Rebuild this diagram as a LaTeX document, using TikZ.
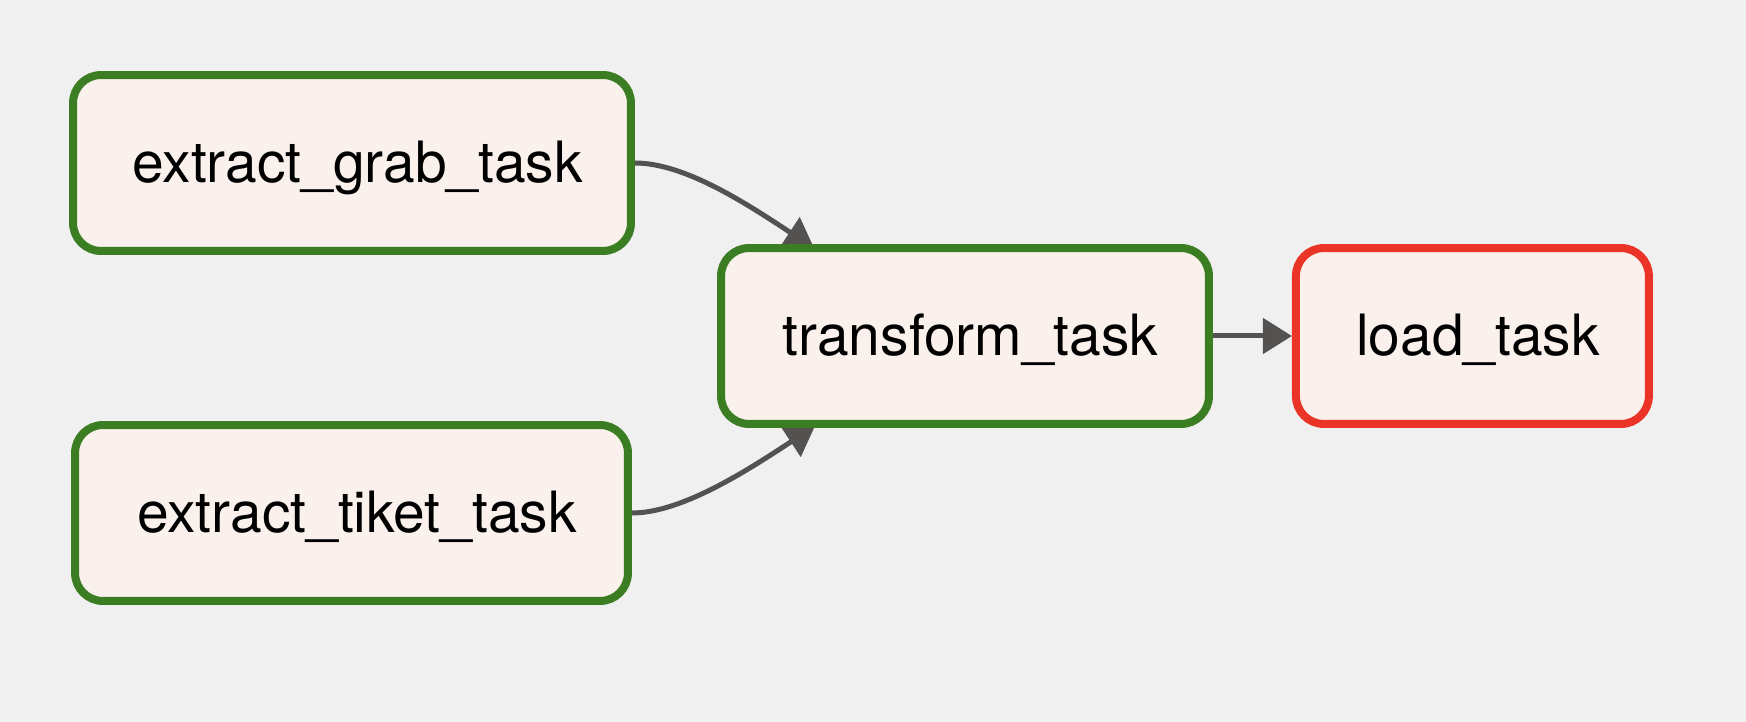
\documentclass[tikz,border=0pt]{standalone}
\usepackage{fontspec}
\setmainfont{TeX Gyre Heros}
\usepackage{tikz}
\usetikzlibrary{positioning,arrows.meta}
\definecolor{bgcol}{RGB}{240,240,240}
\definecolor{taskfill}{RGB}{250,240,236}
\definecolor{okgreen}{RGB}{58,125,34}
\definecolor{failred}{RGB}{235,52,40}
\definecolor{edgegray}{RGB}{83,82,80}
\pgfdeclarelayer{background}
\pgfdeclarelayer{edges}
\pgfsetlayers{background,edges,main}
\tikzset{%
  task/.style   = {draw=okgreen, fill=taskfill, line width=0.16cm, rounded corners=0.56cm,
    minimum height=3.52cm, inner sep=0pt, text height=0.8cm, text depth=0pt,
    execute at begin node={\hspace*{0.22cm}},
    font=\fontsize{32.4}{38}\selectfont}, % Task
  failed/.style = {task, draw=failred}, % Failed task
  link/.style   = {draw=edgegray, line width=0.1cm} % Dependency
}

\begin{document}
\begin{tikzpicture}[x=0.02cm, y=-0.02cm, >={Triangle[length=0.58cm, width=0.7cm]}]

	\begin{pgfonlayer}{background}
		\fill[bgcol] (0,0) rectangle (1746,722);
	\end{pgfonlayer}

	\draw node at (352,163) [task, minimum width=11.16cm] (grab) {extract\_grab\_task};
	\draw node at (351.5,513) [task, minimum width=11.06cm] (tiket) {extract\_tiket\_task};
	\draw node at (965,336) [task, minimum width=9.76cm] (transform) {transform\_task};
	\draw node [failed, right of=transform, node distance=10.15cm, minimum width=7.06cm] (load) {load\_task};

	\coordinate (in1) at (814,248);
	\coordinate (in2) at (815,426);

	\begin{pgfonlayer}{edges}
	\draw[link, ->] (grab.east) .. controls +(50,0) and +(-67,-44) .. (in1);
	\draw[link, ->] (tiket.east) .. controls +(50,0) and +(-67,44) .. (in2);
	\draw[link, ->] (transform.east) -- (load.west);
	\end{pgfonlayer}

\end{tikzpicture}
\end{document}
